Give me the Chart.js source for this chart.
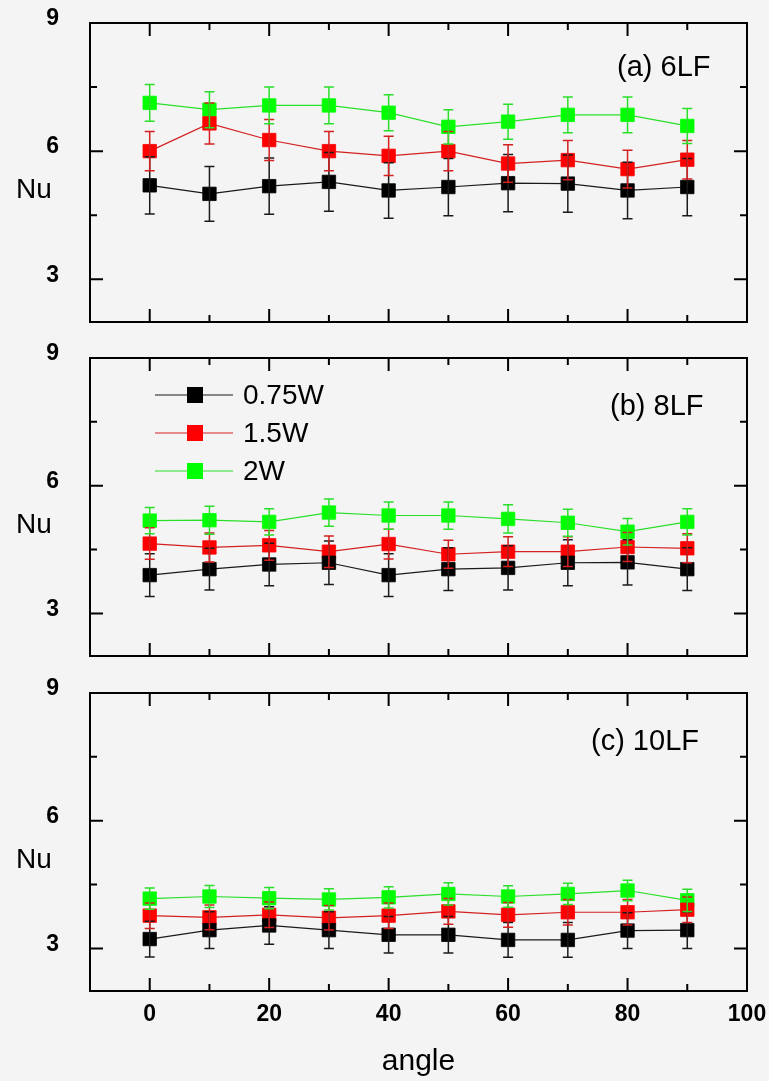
<!DOCTYPE html>
<html>
<head>
<meta charset="utf-8">
<script src="https://cdn.jsdelivr.net/npm/chart.js@4.4.1/dist/chart.umd.min.js"></script>
<style>
  html, body { margin: 0; padding: 0; background: #f4f4f4; }
  #wrap { position: relative; width: 769px; height: 1081px; background: #f4f4f4; }
  canvas { position: absolute; left: 0; }
</style>
</head>
<body>
<div id="wrap">
  <canvas id="chartA" width="769" height="340" style="top:0px"></canvas>
  <canvas id="chartB" width="769" height="335" style="top:340px"></canvas>
  <canvas id="chartC" width="769" height="406" style="top:675px"></canvas>
</div>
<script>
// angle values (x) and series names
var angles = [0, 10, 20, 30, 40, 50, 60, 70, 80, 90];
var seriesNames = ['0.75W', '1.5W', '2W'];
var yTicks = [3, 6, 9];
var xTicks = [0, 20, 40, 60, 80, 100];
var panelTitles = ['(a) 6LF', '(b) 8LF', '(c) 10LF'];

// (a) 6LF
var nuA_075 = [5.20, 5.00, 5.18, 5.28, 5.08, 5.16, 5.25, 5.24, 5.08, 5.16];
var errA_075 = [0.67, 0.64, 0.66, 0.69, 0.65, 0.67, 0.67, 0.67, 0.66, 0.67];
var nuA_15 = [6.00, 6.65, 6.26, 6.00, 5.89, 6.00, 5.71, 5.79, 5.58, 5.80];
var errA_15 = [0.46, 0.48, 0.48, 0.46, 0.46, 0.46, 0.44, 0.46, 0.44, 0.45];
var nuA_2 = [7.13, 6.97, 7.07, 7.07, 6.90, 6.57, 6.69, 6.85, 6.85, 6.59];
var errA_2 = [0.43, 0.42, 0.43, 0.43, 0.42, 0.40, 0.41, 0.42, 0.42, 0.41];

// (b) 8LF
var nuB_075 = [3.90, 4.04, 4.15, 4.19, 3.90, 4.04, 4.07, 4.19, 4.20, 4.04];
var errB_075 = [0.50, 0.49, 0.50, 0.51, 0.50, 0.50, 0.52, 0.54, 0.53, 0.50];
var nuB_15 = [4.64, 4.55, 4.60, 4.45, 4.63, 4.39, 4.45, 4.45, 4.56, 4.53];
var errB_15 = [0.37, 0.34, 0.35, 0.37, 0.35, 0.33, 0.35, 0.35, 0.34, 0.34];
var nuB_2 = [5.18, 5.19, 5.15, 5.37, 5.30, 5.30, 5.22, 5.13, 4.92, 5.15];
var errB_2 = [0.31, 0.33, 0.31, 0.32, 0.32, 0.32, 0.33, 0.32, 0.31, 0.31];

// (c) 10LF
var nuC_075 = [3.22, 3.43, 3.54, 3.43, 3.32, 3.32, 3.20, 3.20, 3.42, 3.43];
var errC_075 = [0.42, 0.43, 0.44, 0.43, 0.43, 0.43, 0.41, 0.41, 0.42, 0.43];
var nuC_15 = [3.77, 3.73, 3.79, 3.72, 3.77, 3.87, 3.79, 3.85, 3.85, 3.91];
var errC_15 = [0.30, 0.29, 0.30, 0.29, 0.30, 0.30, 0.29, 0.30, 0.30, 0.30];
var nuC_2 = [4.17, 4.22, 4.18, 4.15, 4.20, 4.28, 4.22, 4.28, 4.36, 4.13];
var errC_2 = [0.25, 0.26, 0.25, 0.25, 0.25, 0.26, 0.25, 0.25, 0.24, 0.26];

var markerColors = ['#000000', '#ff0000', '#00ff00'];
var lineColors = ['#1a1a1a', '#d42020', '#2adf2a'];

Chart.defaults.font.family = "'Liberation Sans', Arial, sans-serif";
Chart.defaults.color = '#000';

function genDataset(idx, values, errors) {
    return {
        label: seriesNames[idx],
        data: angles.map(function (a, i) { return { x: a, y: values[i] }; }),
        errors: errors,
        borderColor: lineColors[idx],
        borderWidth: 1.2,
        backgroundColor: markerColors[idx],
        pointStyle: 'rect',
        pointRadius: 9.5,
        pointBorderWidth: 0.8,
        pointBorderColor: markerColors[idx],
        pointBackgroundColor: markerColors[idx],
        tension: 0
    };
}

// error bars drawn on top of the markers
var errorBars = {
    id: 'errorBars',
    afterDatasetsDraw: function (chart) {
        var ctx = chart.ctx, ys = chart.scales.y;
        chart.data.datasets.forEach(function (ds, di) {
            var meta = chart.getDatasetMeta(di);
            ctx.save();
            ctx.strokeStyle = ds.borderColor;
            ctx.lineWidth = 1.5;
            meta.data.forEach(function (pt, i) {
                var v = ds.data[i].y, e = ds.errors[i];
                var top = ys.getPixelForValue(v + e), bot = ys.getPixelForValue(v - e);
                ctx.beginPath();
                ctx.moveTo(pt.x, top); ctx.lineTo(pt.x, bot);
                ctx.moveTo(pt.x - 5, top); ctx.lineTo(pt.x + 5, top);
                ctx.moveTo(pt.x - 5, bot); ctx.lineTo(pt.x + 5, bot);
                ctx.stroke();
            });
            ctx.restore();
        });
    }
};

// box frame with inward ticks, plus panel texts
var frame = {
    id: 'frame',
    afterDraw: function (chart, args, opts) {
        var ctx = chart.ctx, a = chart.chartArea;
        var xs = chart.scales.x, ys = chart.scales.y;
        ctx.save();
        ctx.strokeStyle = '#000';
        ctx.lineWidth = 2;
        ctx.strokeRect(a.left, a.top, a.right - a.left, a.bottom - a.top);
        ctx.beginPath();
        for (var t = 0; t <= 90; t += 10) {
            var px = xs.getPixelForValue(t);
            var len = (t % 20 === 0) ? 13 : 7;
            ctx.moveTo(px, a.bottom); ctx.lineTo(px, a.bottom - len);
            ctx.moveTo(px, a.top); ctx.lineTo(px, a.top + len);
        }
        [3, 4.5, 6, 7.5].forEach(function (v) {
            var py = ys.getPixelForValue(v);
            var len = (v % 3 === 0) ? 13 : 7;
            ctx.moveTo(a.left, py); ctx.lineTo(a.left + len, py);
            ctx.moveTo(a.right, py); ctx.lineTo(a.right - len, py);
        });
        ctx.stroke();

        ctx.fillStyle = '#000';
        ctx.textBaseline = 'middle';
        ctx.font = "28px 'Liberation Sans', Arial, sans-serif";
        ctx.textAlign = 'center';
        ctx.fillText('Nu', 34, opts.nuY);
        ctx.textAlign = 'left';
        ctx.font = "29px 'Liberation Sans', Arial, sans-serif";
        ctx.fillText(opts.title, opts.titleX, opts.titleY);

        if (opts.legend) {
            ctx.font = "28px 'Liberation Sans', Arial, sans-serif";
            seriesNames.forEach(function (name, i) {
                var ly = 55 + i * 38;
                ctx.strokeStyle = lineColors[i];
                ctx.lineWidth = 1.2;
                ctx.beginPath();
                ctx.moveTo(155, ly); ctx.lineTo(233, ly);
                ctx.stroke();
                ctx.fillStyle = markerColors[i];
                ctx.fillRect(187, ly - 8, 16, 16);
                ctx.fillStyle = '#000';
                ctx.fillText(name, 243, ly + 1);
            });
        }
        ctx.restore();
    }
};

function createPanel(chartId, datasets, panel) {
    var ctx = document.getElementById(chartId).getContext('2d');
    var xScale = {
        type: 'linear', min: -10, max: 100, display: false
    };
    if (panel.showX) {
        xScale = {
            type: 'linear', min: -10, max: 100, display: true,
            grid: { display: false, drawTicks: true, tickLength: 10 },
            border: { display: false },
            afterBuildTicks: function (s) { s.ticks = xTicks.map(function (v) { return { value: v }; }); },
            afterFit: function (s) { s.height = 90; s.paddingLeft = 0; s.paddingRight = 0; },
            ticks: { font: { size: 23, weight: 'bold' }, padding: 0, color: '#000', maxRotation: 0 },
            title: {
                display: true, text: 'angle', color: '#000',
                font: { size: 30 }, padding: { top: 0, bottom: 1 }
            }
        };
    }
    return new Chart(ctx, {
        type: 'line',
        data: { datasets: datasets },
        options: {
            responsive: false,
            animation: false,
            devicePixelRatio: 1,
            layout: { padding: panel.padding },
            plugins: {
                legend: { display: false },
                tooltip: { enabled: false },
                frame: { title: panel.title, titleX: panel.titleX, titleY: panel.titleY, nuY: panel.nuY, legend: panel.legend }
            },
            scales: {
                x: xScale,
                y: {
                    type: 'linear', min: 2, max: 9,
                    grid: { display: false, drawTicks: false },
                    border: { display: false },
                    afterBuildTicks: function (s) { s.ticks = yTicks.map(function (v) { return { value: v }; }); },
                    afterFit: function (s) { s.width = 90; s.paddingTop = 0; s.paddingBottom = 0; },
                    ticks: { font: { size: 23, weight: 'bold' }, padding: 31, labelOffset: -4, color: '#000' }
                }
            }
        },
        plugins: [errorBars, frame]
    });
}

createPanel('chartA', [
    genDataset(0, nuA_075, errA_075),
    genDataset(1, nuA_15, errA_15),
    genDataset(2, nuA_2, errA_2)
], { padding: { top: 23, bottom: 18, left: 0, right: 22 }, title: panelTitles[0], titleX: 617, titleY: 68, nuY: 190 });

createPanel('chartB', [
    genDataset(0, nuB_075, errB_075),
    genDataset(1, nuB_15, errB_15),
    genDataset(2, nuB_2, errB_2)
], { padding: { top: 18, bottom: 19, left: 0, right: 22 }, title: panelTitles[1], titleX: 610, titleY: 67, nuY: 185, legend: true });

createPanel('chartC', [
    genDataset(0, nuC_075, errC_075),
    genDataset(1, nuC_15, errC_15),
    genDataset(2, nuC_2, errC_2)
], { padding: { top: 18, bottom: 0, left: 0, right: 22 }, title: panelTitles[2], titleX: 591, titleY: 67, nuY: 185, showX: true });
</script>
</body>
</html>
